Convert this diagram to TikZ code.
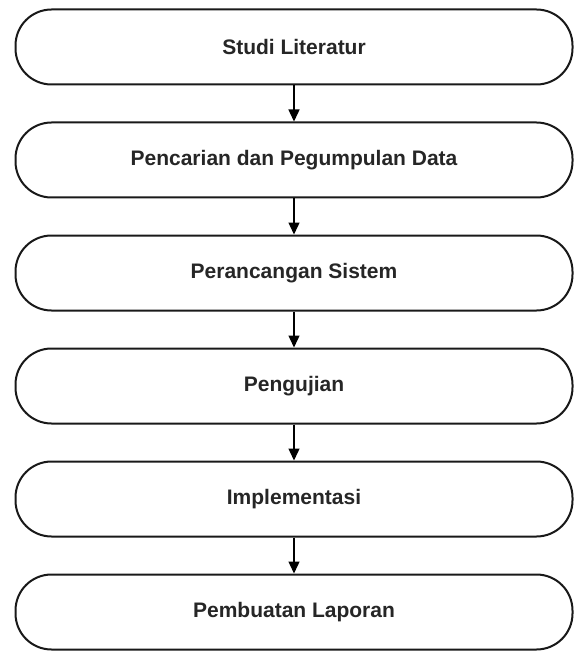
\documentclass[tikz,border=0pt]{standalone}
\usepackage{fontspec}
\setmainfont{Liberation Sans}
\usepackage{tikz}
\usetikzlibrary{positioning,arrows.meta}

\begin{document}
\begin{tikzpicture}[
  x=1pt, y=-1pt,
  node distance=36pt,
  stage/.style={draw=black!90, line width=2pt, rounded corners=36pt,
    minimum width=557pt, minimum height=75pt, fill=white,
    font=\fontsize{21}{25}\selectfont\bfseries, text=black!85},
  flow/.style={-{Triangle[width=11pt,length=12pt]}, line width=1.4pt, draw=black}
]
  \useasboundingbox (0,0) rectangle (574,652);

  \node (studi-literatur) [stage] at (294,47) {Studi Literatur};
  \node (pengumpulan-data) [stage, below=of studi-literatur] {Pencarian dan Pegumpulan Data};
  \node (perancangan) [stage, below=of pengumpulan-data] {Perancangan Sistem};
  \node (pengujian) [stage, below=of perancangan] {Pengujian};
  \node (implementasi) [stage, below=of pengujian] {Implementasi};
  \node (laporan) [stage, below=of implementasi] {Pembuatan Laporan};

  % alur tahapan
  \draw[flow] (studi-literatur) -- (pengumpulan-data);
  \draw[flow] (pengumpulan-data) -- (perancangan);
  \draw[flow] (perancangan) -- (pengujian);
  \draw[flow] (pengujian) -- (implementasi);
  \draw[flow] (implementasi) -- (laporan);
\end{tikzpicture}
\end{document}
